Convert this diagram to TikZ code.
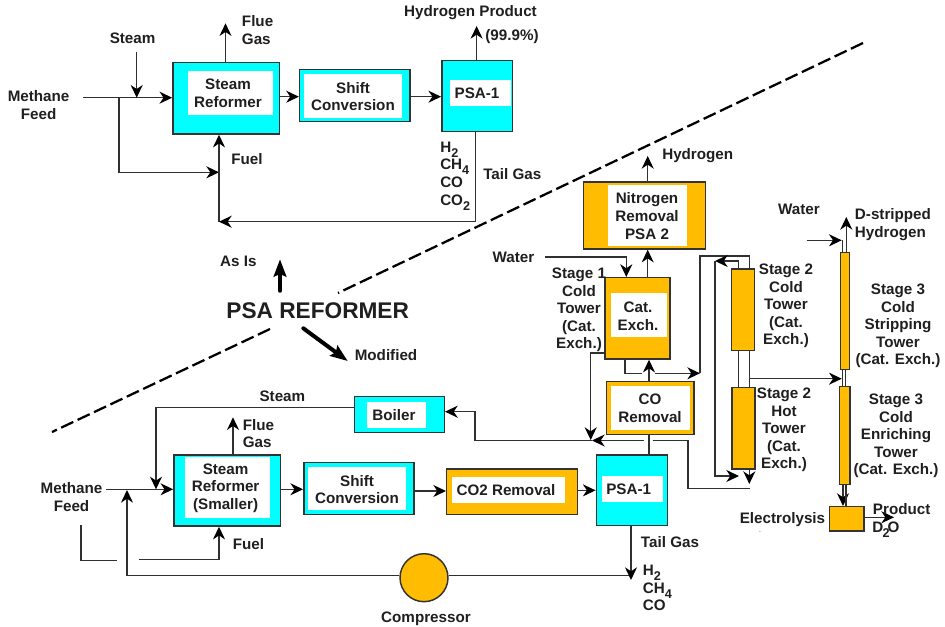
\documentclass[tikz,border=0pt]{standalone}
\usepackage{fontspec}
\setmainfont{Liberation Sans}
\usetikzlibrary{arrows.meta,fit,calc}
\definecolor{wirec}{HTML}{303030}
\definecolor{edgec}{HTML}{333333}
\definecolor{cyanf}{HTML}{00FFFF}
\definecolor{orangef}{HTML}{FFBC00}
\newcommand{\sbs}[1]{\raisebox{-0.33em}{\fontsize{9.5}{9.5}\selectfont #1}}
\tikzset{
  txt/.style={inner sep=0pt,align=center,font=\fontsize{11.4}{13.2}\selectfont\bfseries,text=black!88},
  txl/.style={txt,align=left,anchor=west},
  procbox/.style={draw=edgec,line width=1.1pt,inner sep=0pt},
  innerbox/.style={fill=white,draw=none,inner sep=0pt},
  wire/.style={draw=wirec,line width=0.95pt},
  flow/.style={wire,-{Stealth[length=9.5pt,width=9pt,inset=3pt,color=black]}},
  divider/.style={draw=black,line width=1.7pt,dash pattern=on 10pt off 3.6pt},
  bigarrow/.style={draw=black,line cap=round,-{Stealth[length=13pt,width=9.5pt,inset=2pt]}},
}
% name, x1, y1, x2, y2, fill
\newcommand{\pbox}[6]{\node[procbox,fill=#6,fit={(#2,#3)(#4,#5)}] (#1) {};}
\newcommand{\ibox}[5]{\node[innerbox,fit={(#2,#3)(#4,#5)}] (#1) {};}
\begin{document}
\begin{tikzpicture}[x=0.75pt,y=-0.75pt]
\useasboundingbox (0,0) rectangle (945,627);
% ---------- dividers
\coordinate (divA) at (863,43);
\coordinate (divB) at (338,293);
\coordinate (divC) at (270,329);
\coordinate (divD) at (52,432);
\draw[divider] (divA) -- (divB);
\draw[divider] (divC) -- (divD);
% ---------- top boxes
\pbox{refT}{172.9}{62.7}{279.6}{134}{cyanf}
\ibox{refTi}{187.7}{71}{273}{115}
\pbox{shiftT}{299.6}{69.3}{410}{121.3}{cyanf}
\ibox{shiftTi}{304}{74}{402}{118}
\pbox{psaT}{441.8}{60.3}{512.7}{131.3}{cyanf}
\ibox{psaTi}{450}{80}{511}{106}
% ---------- bottom-left boxes
\pbox{refB}{173.9}{455}{280.7}{526}{cyanf}
\ibox{refBi}{185}{457.3}{270}{518}
\pbox{shiftB}{303.8}{462.3}{414}{514.7}{cyanf}
\ibox{shiftBi}{307.9}{467}{406}{510}
\pbox{co2}{446.7}{469}{577.3}{514.7}{orangef}
\ibox{co2i}{451.8}{477}{564.8}{503}
\pbox{boiler}{354.4}{396.7}{444.3}{432.3}{cyanf}
\ibox{boileri}{367}{402}{426}{428}
\pbox{psaB}{596.3}{455}{667.3}{525.7}{cyanf}
\ibox{psaBi}{602}{476}{663}{502}
% ---------- right boxes
\pbox{nit}{583.7}{182}{705.3}{249}{orangef}
\ibox{niti}{608}{185.3}{687}{245.7}
\pbox{cat}{605}{277.7}{670}{359}{orangef}
\ibox{cati}{611}{293}{667}{336.7}
\pbox{coR}{606.7}{381.7}{694}{434.7}{orangef}
\ibox{coRi}{611}{386}{690}{430}
\pbox{sTwoC}{731.7}{269}{754.7}{350.3}{orangef}
\pbox{sTwoH}{732}{387.7}{755}{469}{orangef}
\pbox{sThreeS}{840.7}{252.7}{849.7}{369.3}{orangef}
\pbox{sThreeE}{839.7}{386.7}{850}{484.3}{orangef}
\pbox{elec}{829.3}{506.7}{864}{531}{orangef}
\node[circle,draw=edgec,line width=1.1pt,fill=orangef,minimum size=36pt,inner sep=0pt] (comp) at (424,577.7) {};
% ---------- top connectors
\coordinate (rowA) at (0,96.7);
\coordinate (feedS) at (83,97.7);
\coordinate (feedJ) at (119,97.7);
\coordinate (steamS) at (136.7,51.7);
\coordinate (fuelJ) at (219,172.3);
\coordinate (fuelB) at (219,221.7);
\coordinate (tailC) at (475.6,221.7);
\coordinate (flueT) at (225.5,23.3);
\coordinate (prodT) at (476.6,26);
\draw[flow] (feedS) -- (refT.west |- feedS);
\draw[flow] (steamS) -- (steamS |- feedS);
\draw[flow] (feedJ) |- (fuelJ);
\draw[flow] (fuelB) -- (fuelB |- refT.south);
\draw[flow] (tailC |- psaT.south) -- (tailC) -- (fuelB);
\draw[flow] (flueT |- refT.north) -- (flueT);
\draw[flow] (prodT |- psaT.north) -- (prodT);
\draw[flow] (refT.east |- rowA) -- (shiftT.west |- rowA);
\draw[flow] (shiftT.east |- rowA) -- (psaT.west |- rowA);
% ---------- bottom-left connectors
\coordinate (feedBS) at (106.4,489.3);
\coordinate (steamC) at (156,407.7);
\coordinate (steamE) at (156,489.3);
\coordinate (flueBT) at (233,417.3);
\coordinate (fuelBS) at (138.5,559.3);
\coordinate (fuelBC) at (219,559.3);
\coordinate (stubA) at (81,525);
\coordinate (stubB) at (81,560.7);
\coordinate (stubC) at (117,560.7);
\coordinate (recycT) at (127,490);
\coordinate (recycC) at (127,575.7);
\coordinate (tailBC) at (631,575.7);
\coordinate (tailBE) at (631,580);
\coordinate (rowB) at (0,491);
\draw[flow] (feedBS) -- (refB.west |- feedBS);
\draw[flow] (boiler.west |- steamC) -- (steamC) -- (steamE);
\draw[flow] (flueBT |- refB.north) -- (flueBT);
\draw[flow] (fuelBS) -- (fuelBC) -- (fuelBC |- refB.south);
\draw[wire] (stubA) -- (stubB) -- (stubC);
\draw[flow] (comp.west |- recycC) -- (recycC) -- (recycT);
\draw[wire] (comp.east |- recycC) -- (tailBC);
\draw[flow] (tailBC |- psaB.south) -- (tailBE);
\draw[flow] (refB.east |- feedBS) -- (shiftB.west |- feedBS);
\draw[flow] (shiftB.east |- rowB) -- (co2.west |- rowB);
\draw[flow] (co2.east |- psaB.center) -- (psaB.west);
% ---------- centre connectors
\coordinate (hydT) at (647.7,156);
\coordinate (waterS) at (545,257);
\coordinate (waterC) at (626.3,257);
\coordinate (mainX) at (649,0);
\coordinate (loopA) at (625,373.3);
\coordinate (loopB) at (641.7,373.3);
\coordinate (loopC) at (655,373.3);
\coordinate (loopD) at (700,373.3);
\coordinate (sideA) at (590.7,353);
\coordinate (sideB) at (590.7,440);
\coordinate (retA) at (644.3,440.5);
\coordinate (retB) at (592,440.5);
\coordinate (retC) at (475,440.5);
\coordinate (retD) at (475,411.7);
\coordinate (hotA) at (652.7,440.5);
\coordinate (hotB) at (688,440.5);
\coordinate (hotC) at (688,488.3);
\coordinate (hotD) at (750,488.3);
\coordinate (pipeA) at (738.7,0);
\coordinate (pipeB) at (749.3,0);
\coordinate (upA) at (749.3,256);
\coordinate (upB) at (700,256);
\coordinate (upC) at (738.7,261);
\coordinate (upD) at (715,261);
\coordinate (upE) at (715,476);
\coordinate (upF) at (739,476);
\coordinate (hotE) at (749.3,484);
\coordinate (stg) at (749.3,378.7);
\coordinate (stgE) at (841.7,378.7);
\draw[flow] (hydT |- nit.north) -- (hydT);
\draw[flow] (hydT |- cat.north) -- (hydT |- nit.south);
\draw[flow] (waterS) -- (waterC) -- (waterC |- cat.north);
\draw[flow] (mainX |- coR.north) -- (mainX |- cat.south);
\draw[wire] (mainX |- coR.south) -- (mainX |- psaB.north);
\draw[wire] (loopA |- cat.south) -- (loopA) -- (loopB);
\draw[flow] (loopC) -- (loopD);
\draw[wire] (loopD) -- (upB) -- (upA) -- (upA |- sTwoC.north);
\draw[flow] (cat.west |- sideA) -- (sideA) -- (sideB);
\draw[flow] (retA) -- (retB);
\draw[flow] (retB) -- (retC) -- (retD) -- (boiler.east |- retD);
\draw[wire] (hotA) -- (hotB) -- (hotC) -- (hotD);
\draw[wire] (pipeA |- sTwoC.south) -- (pipeA |- sTwoH.north);
\draw[wire] (pipeB |- sTwoC.south) -- (pipeB |- sTwoH.north);
\draw[flow] (upC |- sTwoC.north) -- (upC) -- (upD);
\draw[flow] (upD) -- (upE) -- (upF);
\draw[flow] (hotE |- sTwoH.south) -- (hotE);
\draw[flow] (stg) -- (stgE);
% ---------- stage 3 connectors
\coordinate (dOut) at (846.3,217);
\coordinate (watS) at (806.7,240.3);
\coordinate (watE) at (841.7,240.3);
\coordinate (watC) at (842.7,240.3);
\coordinate (mid) at (842.3,0);
\coordinate (midB) at (845.7,0);
\coordinate (botA) at (843,0);
\coordinate (botB) at (846,0);
\coordinate (prodE) at (894,517.3);
\draw[flow] (dOut |- sThreeS.north) -- (dOut);
\draw[wire] (watC) -- (watC |- sThreeS.north);
\draw[flow] (watS) -- (watE);
\draw[wire] (mid |- sThreeS.south) -- (mid |- sThreeE.north);
\draw[wire] (midB |- sThreeS.south) -- (midB |- sThreeE.north);
\draw[flow] (botA |- sThreeE.south) -- (botA |- elec.north);
\draw[wire] (botB |- sThreeE.south) -- (botB |- elec.north);
\draw[flow] (elec.east |- prodE) -- (prodE);
% ---------- bold arrows
\coordinate (asA) at (280,291);
\coordinate (asB) at (280,259.3);
\coordinate (moA) at (303.3,328.3);
\coordinate (moB) at (347.7,361);
\draw[bigarrow,line width=2.6pt] (asA) -- (asB);
\draw[bigarrow,line width=3pt] (moA) -- (moB);
% ---------- top labels
\node[txt] (tSteam) at (132.6,38.7) {Steam};
\node[txl] (tFlue) at (241.7,30.3) {Flue\\Gas};
\node[txt] (tProd) at (470.5,13) {Hydrogen Product};
\node[txt] (tPct) at (512,36.7) {(99.9\%)};
\node[txl,anchor=center] (tMeth) at (38.6,104.8) {\hfil Methane\hfil\\\hfil Feed\hfil};
\node[txt] (tRef) at (228,93.3) {Steam\\Reformer};
\node[txt] (tShift) at (353,96.5) {Shift\\Conversion};
\node[txt] (tPsa) at (477,93) {PSA-1};
\node[txl] (tFuel) at (231,159.5) {Fuel};
\node[txl] (tGasMix) at (440,176) {H\sbs{2}\\CH\sbs{4}\\CO\\CO\sbs{2}};
\node[txl] (tTail) at (483,174.5) {Tail Gas};
% ---------- centre labels
\node[txt,font=\fontsize{17}{20}\selectfont\bfseries] (tTitle) at (317.7,310.5) {PSA REFORMER};
\node[txt] (tAs) at (238.4,261) {As Is};
\node[txt] (tMod) at (386,355) {Modified};
% ---------- bottom-left labels
\node[txt] (tSteamB) at (282.4,396.5) {Steam};
\node[txl] (tFlueB) at (242.5,433.5) {Flue\\Gas};
\node[txt] (tMethB) at (71.5,496.8) {Methane\\Feed};
\node[txt] (tRefB) at (225.6,488.2) {Steam\\Reformer\\(Smaller)};
\node[txt] (tShiftB) at (357,489.5) {Shift\\Conversion};
\node[txt] (tCo2) at (506,490.5) {CO2 Removal};
\node[txt] (tBoil) at (394,415.5) {Boiler};
\node[txl] (tFuelB) at (232.5,544.5) {Fuel};
\node[txt] (tComp) at (426,618.5) {Compressor};
% ---------- right labels
\node[txt] (tPsaB) at (628.7,489.5) {PSA-1};
\node[txl] (tTailB) at (640.7,542.5) {Tail Gas};
\node[txl] (tMixB) at (642.7,588) {H\sbs{2}\\CH\sbs{4}\\CO};
\node[txl] (tHyd) at (662,155.5) {Hydrogen};
\node[txt] (tNit) at (647,216) {Nitrogen\\Removal\\PSA 2};
\node[txt] (tWater) at (513.5,257.5) {Water};
\node[txt] (tS1) at (579,310) {Stage 1\\Cold\\Tower\\(Cat.\\Exch.)};
\node[txt] (tCat) at (638,316) {Cat.\\Exch.};
\node[txt] (tCoR) at (650,408.5) {CO\\Removal};
\node[txt] (tS2C) at (786,306) {Stage 2\\Cold\\Tower\\(Cat.\\Exch.)};
\node[txt] (tS2H) at (784,430) {Stage 2\\Hot\\Tower\\(Cat.\\Exch.)};
\node[txt] (tWat3) at (799,209.2) {Water};
\node[txl] (tDs) at (854.7,224.8) {D-stripped\\Hydrogen};
\node[txt] (tS3S) at (898,326) {Stage 3\\Cold\\Stripping\\Tower\\(Cat. Exch.)};
\node[txt] (tS3E) at (896,436) {Stage 3\\Cold\\Enriching\\Tower\\(Cat. Exch.)};
\node[txt] (tElec) at (782.5,519.5) {Electrolysis};
\node[txt,font=\fontsize{5}{5}\selectfont] (tDot) at (760,532) {.};
\node[txl] (tProdB) at (872.7,509.5) {Product};
\node[txl] (tD2o) at (872,529.5) {D\kern-0.5pt\sbs{2}\kern-1.5pt O};
\end{tikzpicture}
\end{document}
